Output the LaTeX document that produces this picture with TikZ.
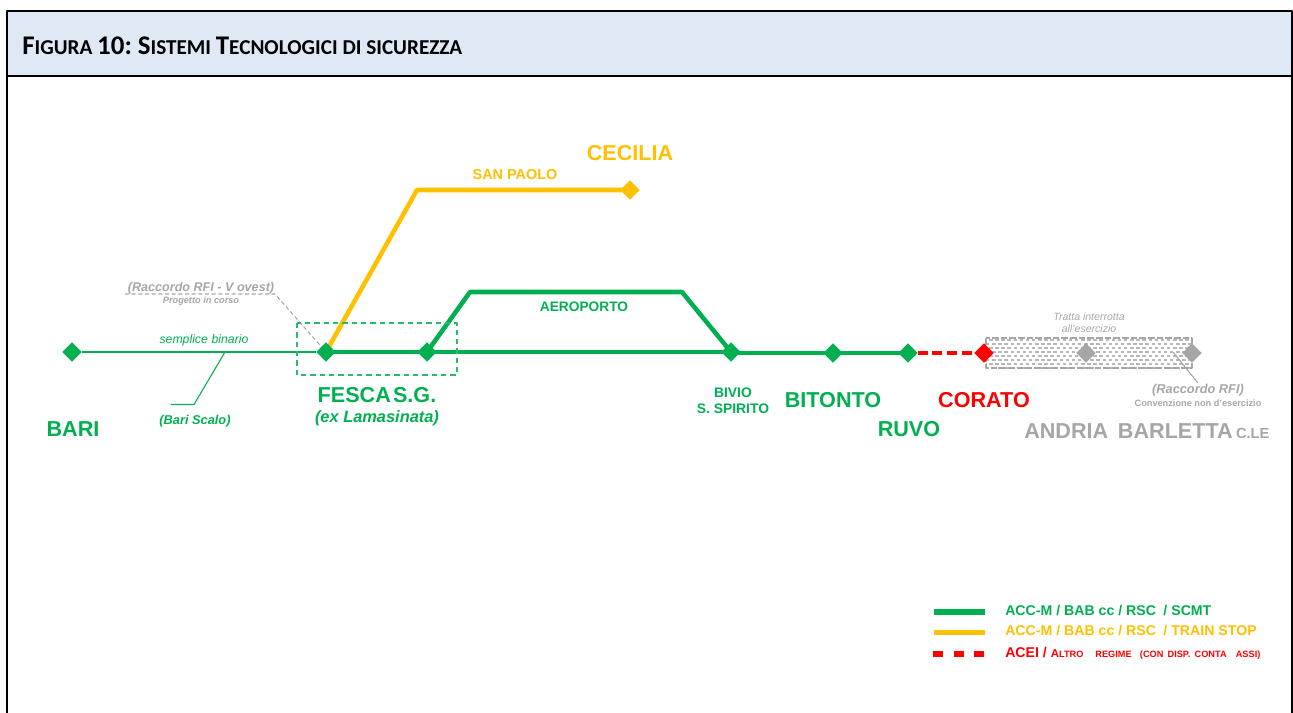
\documentclass[tikz,border=0pt]{standalone}
\usepackage{fontspec}
\setmainfont{Liberation Sans}
\newfontfamily\titlefont{Carlito}
\usetikzlibrary{shapes.geometric}
\definecolor{verde}{HTML}{00B050}
\definecolor{giallo}{HTML}{FFC000}
\definecolor{rosso}{HTML}{FF0000}
\definecolor{grigio}{HTML}{A6A6A6}
\definecolor{testata}{HTML}{DEE9F5}
\tikzset{
	staz/.style={diamond,fill=#1,inner sep=0pt,minimum size=14.2pt},
	nome/.style={font=\bfseries\fontsize{16.2}{18}\selectfont,text=#1,inner sep=0pt},
	nota/.style={font=\itshape\fontsize{8.2}{10}\selectfont,text=#1,inner sep=0pt,align=center},
	legenda/.style={font=\bfseries\fontsize{10.6}{12}\selectfont,text=#1,inner sep=0pt,anchor=west},
	linea/.style={line width=3.4pt,draw=#1},
}
\begin{document}
\begin{tikzpicture}[x=.75pt,y=-.75pt,line join=round,>=stealth]
	\def\xmin{0} \def\xmax{1293}
	\def\ymin{0} \def\ymax{713}
	\useasboundingbox (\xmin,\ymin) rectangle (\xmax,\ymax);
	% testata
	\fill[testata] (7,11) rectangle (1292,76);
	\draw[line width=1.3pt] (7,\ymax)--(7,11)--(1292,11)--(1292,\ymax) (7,76)--(1292,76);
	\node[anchor=west,inner sep=0pt,font=\titlefont\bfseries\fontsize{15.9}{18}\selectfont] (titolo) at (22,46)
		{{\fontsize{20.2}{18}\selectfont F}IGURA {\fontsize{20.2}{18}\selectfont 10:\hspace{-.08em} S}ISTEMI {\fontsize{20.2}{18}\selectfont T}ECNOLOGICI DI SICUREZZA};
	% zona interrotta
	\foreach \r [count=\i] in {340,344,...,368}
		\draw[grigio!80,line width=1.1pt,dash pattern=on 2.6pt off 2pt,dash phase=\i*2.3pt] (986,\r)--(1192,\r);
	\draw[grigio,line width=.8pt,dash pattern=on 5pt off 1.5pt] (986,338) rectangle (1192,368);
	% stazioni
	\node[staz=verde] (bari) at (72,352) {};
	\node[staz=verde] (fesca) at (326,352) {};
	\node[staz=verde] (lama) at (427,352) {};
	\node[staz=verde] (bivio) at (731,352) {};
	\node[staz=verde] (bitonto) at (833,353) {};
	\node[staz=verde] (ruvo) at (908,353) {};
	\node[staz=rosso] (corato) at (984,353) {};
	\node[staz=grigio] (andria) at (1086,353) {};
	\node[staz=grigio] (barletta) at (1192,353) {};
	\node[staz=giallo] (cecilia) at (630,190) {};
	\coordinate (g1) at (417,190);
	\coordinate (a1) at (470,292);
	\coordinate (a2) at (682,292);
	\coordinate (b1) at (731,353);
	\coordinate (bs) at (225,352);
	\coordinate (bs1) at (194,404.5);
	\coordinate (bs2) at (171,404.5);
	\coordinate (rv) at (125,294);
	\coordinate (rv1) at (275,294);
	\coordinate (rf) at (1173,352);
	\coordinate (rf1) at (1198,383);
	% linee
	\draw[linea=giallo] (fesca.center)--(g1)--(cecilia.center);
	\draw[linea=verde] (lama.center)--(a1)--(a2)--(bivio.center);
	\draw[linea=verde] (fesca.center)--(lama.center)--(bivio.center);
	\draw[linea=verde] (b1)--(bitonto.center)--(ruvo.center);
	\draw[rosso,line width=3.4pt,dash pattern=on 7.5pt off 3.5pt] (ruvo)--(corato);
	\draw[verde,line width=1pt] (bari)--(fesca);
	\draw[verde,line width=.8pt] (bs)--(bs1)--(bs2);
	\draw[grigio,line width=.8pt,densely dashed] (rv)--(rv1)--(fesca);
	\draw[grigio,line width=.8pt] (rf)--(rf1);
	% riquadro Fesca
	\draw[verde!85,line width=.8pt,dash pattern=on 4pt off 3pt] (297,323) rectangle (457,375);
	% ridisegno dei rombi sopra le linee
	\foreach \n/\c in {bari/verde,fesca/verde,lama/verde,bivio/verde,bitonto/verde,ruvo/verde,corato/rosso,andria/grigio,barletta/grigio,cecilia/giallo}
		\fill[\c] (\n.north)--(\n.east)--(\n.south)--(\n.west)--cycle;
	% nomi
	\node[nome=verde] (tbari) at (73,429.5) {BARI};
	\node[nome=verde] (tfesca) at (377,395.5) {FESCA\hspace{.1em}S.G.};
	\node[nome=verde,font=\bfseries\itshape\fontsize{12.3}{14}\selectfont] (tlama) at (377,418) {(ex Lamasinata)};
	\node[nome=verde,font=\bfseries\fontsize{10.4}{12.2}\selectfont,align=center] (tbivio) at (733,401) {BIVIO\\S. SPIRITO};
	\node[nome=verde] (tbitonto) at (833,400.5) {BITONTO};
	\node[nome=verde] (truvo) at (909,429.5) {RUVO};
	\node[nome=rosso] (tcorato) at (984,400.5) {CORATO};
	\node[nome=giallo] (tcecilia) at (630,153.5) {CECILIA};
	\node[nome=grigio,anchor=west] (tandria) at (1024,431) {ANDRIA\hspace{.45em}BARLETTA\hspace{.15em}{\fontsize{11}{11}\selectfont C.LE}};
	% note
	\node[nome=giallo,font=\bfseries\fontsize{10.8}{12}\selectfont] (tsan) at (515,175) {SAN PAOLO};
	\node[nome=verde,font=\bfseries\fontsize{10.3}{12}\selectfont] (taero) at (584,307) {AEROPORTO};
	\node[nota=verde,font=\itshape\fontsize{9.2}{11}\selectfont] (tsempl) at (204,340) {semplice\hspace{.3em}binario};
	\node[nota=verde,font=\bfseries\itshape\fontsize{9.6}{11}\selectfont] (tscalo) at (195,421) {(Bari Scalo)};
	\node[nota=grigio,font=\bfseries\itshape\fontsize{9.45}{11}\selectfont] (trv) at (201,288) {(Raccordo RFI - V ovest)};
	\node[nota=grigio,font=\bfseries\itshape\fontsize{6.9}{8}\selectfont] (tprog) at (201,301) {Progetto in corso};
	\node[nota=grigio,font=\itshape\fontsize{7.9}{9.2}\selectfont] (ttratta) at (1089,323) {Tratta interrotta\\all'esercizio};
	\node[nota=grigio,font=\bfseries\itshape\fontsize{9.6}{11}\selectfont] (trf) at (1198,390) {(Raccordo RFI)};
	\node[nota=grigio,font=\bfseries\fontsize{6.9}{8}\selectfont] (tconv) at (1198,403) {Convenzione non d'esercizio};
	% legenda
	\coordinate (l1) at (934,612); \coordinate (l1b) at (985,612);
	\coordinate (l2) at (934,632.5); \coordinate (l2b) at (985,632.5);
	\coordinate (l3) at (933,654); \coordinate (l3b) at (985,654);
	\draw[linea=verde,line width=4.2pt] (l1)--(l1b);
	\draw[linea=giallo,line width=4.2pt] (l2)--(l2b);
	\draw[rosso,line width=4.2pt,dash pattern=on 7.5pt off 8pt] (l3)--(l3b);
	\node[legenda=verde] (t1) at (1005,611) {ACC-M / BAB cc / RSC\hspace{.25em} / SCMT};
	\node[legenda=giallo] (t2) at (1005,631) {ACC-M / BAB cc / RSC\hspace{.25em} / TRAIN STOP};
	\node[legenda=rosso] (t3) at (1005,653.5) {ACEI / {\fontsize{8.6}{9}\selectfont A}{\fontsize{6.9}{9}\selectfont LTRO\hspace{1.3em}REGIME\hspace{.9em}(CON\hspace{.45em}DISP.\hspace{.45em}CONTA\hspace{1em}ASSI)}};
\end{tikzpicture}
\end{document}
